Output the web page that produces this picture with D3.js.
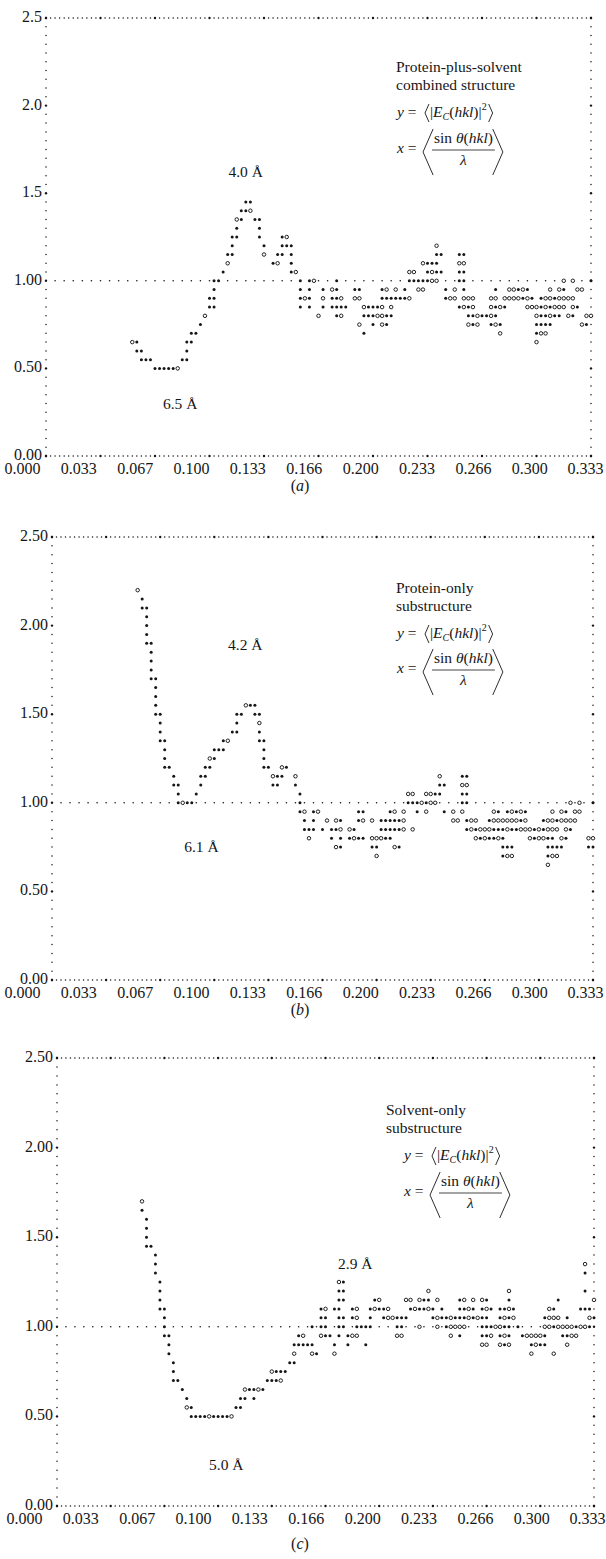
<!DOCTYPE html>
<html>
<head>
<meta charset="utf-8">
<script src="https://cdn.jsdelivr.net/npm/d3@7/dist/d3.min.js"></script>
<style>
  body { margin: 0; background: #fff; }
  text { font-family: "Liberation Serif", "DejaVu Serif", serif; fill: #161616; }
</style>
</head>
<body>
<svg id="fig" width="606" height="1559"></svg>
<script>
// line-printer plot: 120 columns over 0..0.333, rows every 0.05
const colStep = 0.333 / 120;

const xTicks = [0, 0.0333, 0.0667, 0.1, 0.1333, 0.1667, 0.2, 0.2333, 0.2667, 0.3, 0.333];
const xTickLabels = ["0.000", "0.033", "0.067", "0.100", "0.133", "0.166", "0.200", "0.233", "0.266", "0.300", "0.333"];
const yTicks = [0, 0.5, 1, 1.5, 2, 2.5];
const yLabelsA = ["0.00", "0.50", "1.00", "1.5", "2.0", "2.5"];
const yLabelsBC = ["0.00", "0.50", "1.00", "1.50", "2.00", "2.50"];

// each row: [y, first column, symbols]   '*' filled, 'o' open, ' ' gap
const rowsA = [
  [1.45, 44, "**"],
  [1.40, 43, "**o"],
  [1.35, 42, "o*"], [1.35, 46, "**"],
  [1.30, 42, "*"], [1.30, 47, "*"],
  [1.25, 41, "**"], [1.25, 47, "*"], [1.25, 52, "*o"],
  [1.20, 41, "*"], [1.20, 48, "*"], [1.20, 52, "***"], [1.20, 86, "o"],
  [1.15, 40, "**"], [1.15, 48, "o"], [1.15, 51, "**"], [1.15, 54, "*"], [1.15, 86, "**"], [1.15, 91, "**"],
  [1.10, 40, "o"], [1.10, 50, "*o"], [1.10, 54, "*"], [1.10, 83, "o***"], [1.10, 91, "oo"],
  [1.05, 39, "*"], [1.05, 54, "*o"], [1.05, 80, "oo"], [1.05, 84, "*o**"], [1.05, 91, "**"],
  [1.00, 37, "**"], [1.00, 56, "*"], [1.00, 58, "*o"], [1.00, 64, "*"], [1.00, 80, "*****oo"], [1.00, 91, "**"], [1.00, 114, "o o"], [1.00, 120, "*"],
  [0.95, 37, "*"], [0.95, 56, "*"], [0.95, 58, "*"], [0.95, 61, "*"], [0.95, 63, "o*"], [0.95, 68, "**"], [0.95, 74, "*o"], [0.95, 77, "o"], [0.95, 79, "*"], [0.95, 82, "oo"], [0.95, 88, "*"], [0.95, 90, "o"], [0.95, 92, "*"], [0.95, 99, "*"], [0.95, 102, "oo*o*"], [0.95, 111, "o"], [0.95, 113, "o*"], [0.95, 117, "oo"],
  [0.90, 36, "**"], [0.90, 56, "*o*"], [0.90, 61, "o"], [0.90, 63, "**o"], [0.90, 68, "oo"], [0.90, 74, "******o"], [0.90, 88, "*oo"], [0.90, 92, "ooo"], [0.90, 98, "oo"], [0.90, 101, "oooo*o*"], [0.90, 109, "*oo*oooo"],
  [0.85, 36, "**"], [0.85, 56, "*"], [0.85, 58, "*"], [0.85, 61, "*"], [0.85, 63, "****"], [0.85, 70, "o***o"], [0.85, 76, "o"], [0.85, 91, "*o*o"], [0.85, 98, "o*o*"], [0.85, 106, "ooo*o*ooo"], [0.85, 116, "o*"],
  [0.80, 35, "o"], [0.80, 60, "o"], [0.80, 64, "*o"], [0.80, 70, "***oo**"], [0.80, 93, "**o**o*"], [0.80, 108, "o**o**"], [0.80, 115, "o*"], [0.80, 119, "oo"],
  [0.75, 34, "*"], [0.75, 69, "o"], [0.75, 72, "*"], [0.75, 74, "o*"], [0.75, 93, "o*o"], [0.75, 98, "*o*"], [0.75, 108, "****"], [0.75, 118, "o*"],
  [0.70, 32, "**"], [0.70, 70, "*"], [0.70, 100, "o"], [0.70, 108, "*oo"],
  [0.65, 19, "o*"], [0.65, 31, "**"], [0.65, 108, "o"],
  [0.60, 20, "**"], [0.60, 31, "*"],
  [0.55, 21, "***"], [0.55, 30, "**"],
  [0.50, 24, "*****o"]
];

const rowsB = [
  [2.20, 19, "o"], [2.15, 20, "*"], [2.10, 20, "**"], [2.05, 21, "*"], [2.00, 21, "*"], [1.95, 21, "*"],
  [1.90, 21, "**"], [1.85, 22, "*"], [1.80, 22, "*"], [1.75, 22, "*"], [1.70, 22, "**"], [1.65, 23, "*"],
  [1.60, 23, "*"],
  [1.55, 23, "*"], [1.55, 43, "o**"],
  [1.50, 23, "**"], [1.50, 41, "**"], [1.50, 45, "**"],
  [1.45, 24, "*"], [1.45, 41, "*"], [1.45, 46, "o"],
  [1.40, 24, "*"], [1.40, 40, "**"], [1.40, 46, "*"],
  [1.35, 24, "**"], [1.35, 38, "*o"], [1.35, 46, "**"],
  [1.30, 25, "*"], [1.30, 36, "***"], [1.30, 47, "*"],
  [1.25, 25, "*"], [1.25, 35, "o*"], [1.25, 47, "*"],
  [1.20, 25, "**"], [1.20, 34, "**"], [1.20, 47, "**"], [1.20, 51, "o*"],
  [1.15, 27, "*"], [1.15, 33, "**"], [1.15, 49, "o**"], [1.15, 54, "o"], [1.15, 86, "o"], [1.15, 91, "**"],
  [1.10, 27, "**"], [1.10, 33, "*"], [1.10, 49, "**"], [1.10, 54, "*"], [1.10, 86, "**"], [1.10, 91, "oo"],
  [1.05, 28, "*"], [1.05, 32, "*"], [1.05, 55, "*"], [1.05, 79, "oo"], [1.05, 83, "oo**"], [1.05, 91, "**"],
  [1.00, 28, "*o**"], [1.00, 55, "*"], [1.00, 79, "***o*oo"], [1.00, 91, "**"], [1.00, 115, "o o"], [1.00, 120, "*"],
  [0.95, 55, "*o"], [0.95, 58, "*o"], [0.95, 68, "**"], [0.95, 75, "*o"], [0.95, 78, "o"], [0.95, 81, "*"], [0.95, 83, "o"], [0.95, 87, "*"], [0.95, 89, "o"], [0.95, 91, "o"], [0.95, 98, "o*"], [0.95, 101, "*o*o*"], [0.95, 111, "o"], [0.95, 113, "o*"], [0.95, 116, "oo"],
  [0.90, 56, "*"], [0.90, 58, "*"], [0.90, 61, "o"], [0.90, 63, "o*"], [0.90, 68, "*o"], [0.90, 71, "o"], [0.90, 73, "*****o"], [0.90, 89, "oo"], [0.90, 92, "*oo"], [0.90, 97, "*oooooo*o"], [0.90, 109, "*oo*oooo"],
  [0.85, 56, "***"], [0.85, 60, "*"], [0.85, 62, "**o"], [0.85, 66, "o*"], [0.85, 73, "*****o"], [0.85, 80, "o"], [0.85, 92, "*o*ooo***o**ooo*o*ooo o*"],
  [0.80, 57, "o"], [0.80, 62, "* * *o"], [0.80, 68, "**"], [0.80, 71, "ooo**"], [0.80, 94, "o*o**o*"], [0.80, 106, "o*oo**"], [0.80, 113, "o*"], [0.80, 119, "oo"],
  [0.75, 63, "o*"], [0.75, 71, "**"], [0.75, 76, "o*"], [0.75, 100, "***"], [0.75, 110, "****"], [0.75, 119, "**"],
  [0.70, 72, "o"], [0.70, 100, "*oo"], [0.70, 110, "*oo"],
  [0.65, 110, "o"]
];

const rowsC = [
  [1.70, 19, "o"], [1.65, 19, "*"], [1.60, 20, "*"], [1.55, 20, "*"], [1.50, 20, "*"], [1.45, 20, "**"],
  [1.40, 22, "*"], [1.35, 22, "*"], [1.35, 118, "o"], [1.30, 22, "*"], [1.30, 118, "*"],
  [1.25, 23, "*"], [1.25, 63, "o*"],
  [1.20, 23, "*"], [1.20, 63, "**"], [1.20, 83, "o"], [1.20, 101, "o"], [1.20, 118, "*"],
  [1.15, 23, "*"], [1.15, 63, "**"], [1.15, 71, "*o"], [1.15, 78, "oo"], [1.15, 81, "o**"], [1.15, 85, "o"], [1.15, 90, "*o"], [1.15, 93, "o"], [1.15, 95, "o*"], [1.15, 101, "*"], [1.15, 112, "*"], [1.15, 120, "o"],
  [1.10, 23, "**"], [1.10, 59, "*o"], [1.10, 62, "**"], [1.10, 66, "*o"], [1.10, 70, "*o**o"], [1.10, 79, "*o**o*"], [1.10, 86, "*"], [1.10, 90, "**o*"], [1.10, 95, "*o*"], [1.10, 99, "**o*"], [1.10, 110, "o*"], [1.10, 117, "***"],
  [1.05, 24, "*"], [1.05, 59, "**"], [1.05, 63, "**"], [1.05, 66, "*o"], [1.05, 70, "*"], [1.05, 73, "*oo***"], [1.05, 84, "*o**o***o*o**"], [1.05, 99, "*o*o"], [1.05, 109, "*ooo"], [1.05, 114, "*"], [1.05, 119, "o*"],
  [1.00, 24, "*"], [1.00, 57, "*"], [1.00, 59, "**"], [1.00, 63, "**"], [1.00, 67, "****"], [1.00, 76, "**"], [1.00, 81, "o"], [1.00, 85, "o"], [1.00, 87, "*oooo"], [1.00, 95, "***oo**"], [1.00, 103, "*"], [1.00, 109, "oo*oooo*oo*"],
  [0.95, 24, "**"], [0.95, 54, "*o"], [0.95, 59, "o**"], [0.95, 63, "*"], [0.95, 65, "*oo"], [0.95, 76, "oo"], [0.95, 88, "o *"], [0.95, 95, "**o"], [0.95, 99, "*o*"], [0.95, 104, "*oooo*"], [0.95, 113, "**oo"],
  [0.90, 25, "*"], [0.90, 53, "*****"], [0.90, 62, "*"], [0.90, 65, "*"], [0.90, 69, "*"], [0.90, 95, "oo"], [0.90, 99, "o*o"], [0.90, 106, "*o*"], [0.90, 109, "*"], [0.90, 114, "o"],
  [0.85, 25, "*"], [0.85, 53, "o"], [0.85, 57, "o*"], [0.85, 62, "o"], [0.85, 106, "o"], [0.85, 111, "o"],
  [0.80, 26, "*"], [0.80, 52, "**"],
  [0.75, 26, "*"], [0.75, 48, "o***"],
  [0.70, 26, "**"], [0.70, 47, "***o"],
  [0.65, 28, "*"], [0.65, 42, "o**o*"],
  [0.60, 29, "*"], [0.60, 41, "**"], [0.60, 44, "*"],
  [0.55, 29, "o*"], [0.55, 40, "**"],
  [0.50, 30, "****o****o"]
];

const titleA = ["Protein-plus-solvent", "combined structure"];
const titleB = ["Protein-only", "substructure"];
const titleC = ["Solvent-only", "substructure"];

// resolution labels placed in data units
const resA = [{t: "4.0 Å", x: 0.122, y: 1.59}, {t: "6.5 Å", x: 0.082, y: 0.27}];
const resB = [{t: "4.2 Å", x: 0.119, y: 1.86}, {t: "6.1 Å", x: 0.092, y: 0.72}];
const resC = [{t: "2.9 Å", x: 0.185, y: 1.32}, {t: "5.0 Å", x: 0.105, y: 0.20}];

const ink = "#161616";
const svg = d3.select("#fig");

const panels = [
  {rows: rowsA, yLabels: yLabelsA, title: titleA, res: resA, tag: "a",
   left: 46, right: 591, top: 18, bottom: 456, labY: 474, labL: 22, labR: 585, tagY: 491,
   tx: 396, ty: 72, fxl: 397, fy: 117, fx: 153},
  {rows: rowsB, yLabels: yLabelsBC, title: titleB, res: resB, tag: "b",
   left: 52, right: 593, top: 537, bottom: 980, labY: 998, labL: 22, labR: 585, tagY: 1015,
   tx: 396, ty: 593, fxl: 397, fy: 638, fx: 673},
  {rows: rowsC, yLabels: yLabelsBC, title: titleC, res: resC, tag: "c",
   left: 57, right: 594, top: 1058, bottom: 1506, labY: 1524, labL: 24, labR: 587, tagY: 1549,
   tx: 386, ty: 1115, fxl: 404, fy: 1160, fx: 1196}
];

function toPoints(rows) {
  const pts = [];
  rows.forEach(([y, c0, s]) => {
    [...s].forEach((ch, i) => {
      if (ch === " ") return;
      pts.push({x: (c0 + i) * colStep, y: y, open: ch === "o"});
    });
  });
  return pts;
}

function bracket(g, x, y1, y2, dir) {
  const ym = (y1 + y2) / 2, w = (y2 - y1) * 0.22;
  g.append("path")
    .attr("d", `M${x + dir * w},${y1} L${x},${ym} L${x + dir * w},${y2}`)
    .attr("fill", "none").attr("stroke", ink).attr("stroke-width", 0.9);
}

function formulas(g, x0, yY, yX) {
  // y = <|Ec(hkl)|^2>
  const ty = g.append("text").attr("x", x0).attr("y", yY).attr("font-size", 15.5);
  ty.append("tspan").attr("font-style", "italic").text("y");
  ty.append("tspan").text(" =");
  bracket(g, x0 + 28, yY - 13, yY + 5, 1);
  const tv = g.append("text").attr("x", x0 + 33).attr("y", yY).attr("font-size", 15.5);
  tv.append("tspan").text("|");
  tv.append("tspan").attr("font-style", "italic").text("E");
  tv.append("tspan").attr("font-style", "italic").attr("font-size", 10).attr("dy", 3).text("C");
  tv.append("tspan").attr("dy", -3).text("(");
  tv.append("tspan").attr("font-style", "italic").text("hkl");
  tv.append("tspan").text(")|");
  tv.append("tspan").attr("font-size", 10).attr("dy", -7).text("2");
  const w = tv.node().getBBox().width;
  bracket(g, x0 + 33 + w + 6, yY - 13, yY + 5, -1);

  // x = < sin theta(hkl) / lambda >
  const tx = g.append("text").attr("x", x0).attr("y", yX).attr("font-size", 15.5);
  tx.append("tspan").attr("font-style", "italic").text("x");
  tx.append("tspan").text(" =");
  bracket(g, x0 + 26, yX - 24, yX + 22, 1);
  const num = g.append("text").attr("x", x0 + 37).attr("y", yX - 10).attr("font-size", 15.5);
  num.append("tspan").text("sin ");
  num.append("tspan").attr("font-style", "italic").text("θ");
  num.append("tspan").text("(");
  num.append("tspan").attr("font-style", "italic").text("hkl");
  num.append("tspan").text(")");
  const nw = num.node().getBBox().width;
  g.append("line")
    .attr("x1", x0 + 35).attr("x2", x0 + 39 + nw)
    .attr("y1", yX - 3).attr("y2", yX - 3)
    .attr("stroke", ink).attr("stroke-width", 0.8);
  g.append("text").attr("x", x0 + 37 + nw / 2).attr("y", yX + 12)
    .attr("text-anchor", "middle").attr("font-size", 15.5).attr("font-style", "italic").text("λ");
  bracket(g, x0 + 47 + nw, yX - 24, yX + 22, -1);
}

panels.forEach(p => {
  const g = svg.append("g");
  const x = d3.scaleLinear().domain([0, 0.333]).range([p.left, p.right]);
  const y = d3.scaleLinear().domain([0, 2.5]).range([p.bottom, p.top]);

  // dotted frame: one dot per column on top/bottom, one per row on the sides
  const cols = d3.range(0, 121);
  const rowIdx = d3.range(0, 51);
  [0, 2.5].forEach(v => {
    g.append("g").selectAll("circle").data(cols).join("circle")
      .attr("cx", c => x(c * colStep)).attr("cy", y(v))
      .attr("r", c => c % 12 === 0 ? 1.2 : 0.75).attr("fill", ink);
  });
  [0, 0.333].forEach(v => {
    g.append("g").selectAll("circle").data(rowIdx).join("circle")
      .attr("cx", x(v)).attr("cy", r => y(r * 0.05))
      .attr("r", r => r % 10 === 0 ? 1.2 : 0.75).attr("fill", ink);
  });
  // dotted reference at 1.00
  g.append("g").selectAll("circle").data(d3.range(2, 120, 2)).join("circle")
    .attr("cx", c => x(c * colStep)).attr("cy", y(1))
    .attr("r", 0.8).attr("fill", ink);

  // data symbols
  g.append("g").selectAll("circle").data(toPoints(p.rows)).join("circle")
    .attr("cx", d => x(d.x)).attr("cy", d => y(d.y))
    .attr("r", d => d.open ? 1.75 : 1.5)
    .attr("fill", d => d.open ? "#fff" : ink)
    .attr("stroke", ink)
    .attr("stroke-width", d => d.open ? 0.95 : 0);

  // y labels
  const ya = g.append("g").attr("transform", `translate(${p.left},0)`)
    .call(d3.axisLeft(y).tickValues(yTicks).tickFormat((d, i) => p.yLabels[i]).tickSize(0).tickPadding(4));
  ya.select(".domain").remove();
  ya.attr("font-family", null).attr("font-size", 16);
  ya.selectAll("text").attr("dy", "0.22em");

  // x labels sit on their own, slightly wider scale (as printed)
  const xl = d3.scaleLinear().domain([0, 0.333]).range([p.labL, p.labR]);
  const xa = g.append("g").attr("transform", `translate(0,${p.labY})`)
    .call(d3.axisBottom(xl).tickValues(xTicks).tickFormat((d, i) => xTickLabels[i]).tickSize(0).tickPadding(0));
  xa.select(".domain").remove();
  xa.attr("font-family", null).attr("font-size", 16);
  xa.selectAll("text").attr("dy", null).attr("y", 0);

  // panel tag
  const tg = g.append("text").attr("x", 300).attr("y", p.tagY).attr("text-anchor", "middle").attr("font-size", 16);
  tg.append("tspan").text("(");
  tg.append("tspan").attr("font-style", "italic").text(p.tag);
  tg.append("tspan").text(")");

  // titles
  p.title.forEach((s, i) => {
    g.append("text").attr("x", p.tx).attr("y", p.ty + i * 18).attr("font-size", 15.5).text(s);
  });
  formulas(g, p.fxl, p.fy, p.fx);

  // resolution markers
  g.selectAll(".res").data(p.res).join("text")
    .attr("x", d => x(d.x)).attr("y", d => y(d.y))
    .attr("text-anchor", "middle").attr("font-size", 15.5)
    .text(d => d.t);
});
</script>
</body>
</html>
